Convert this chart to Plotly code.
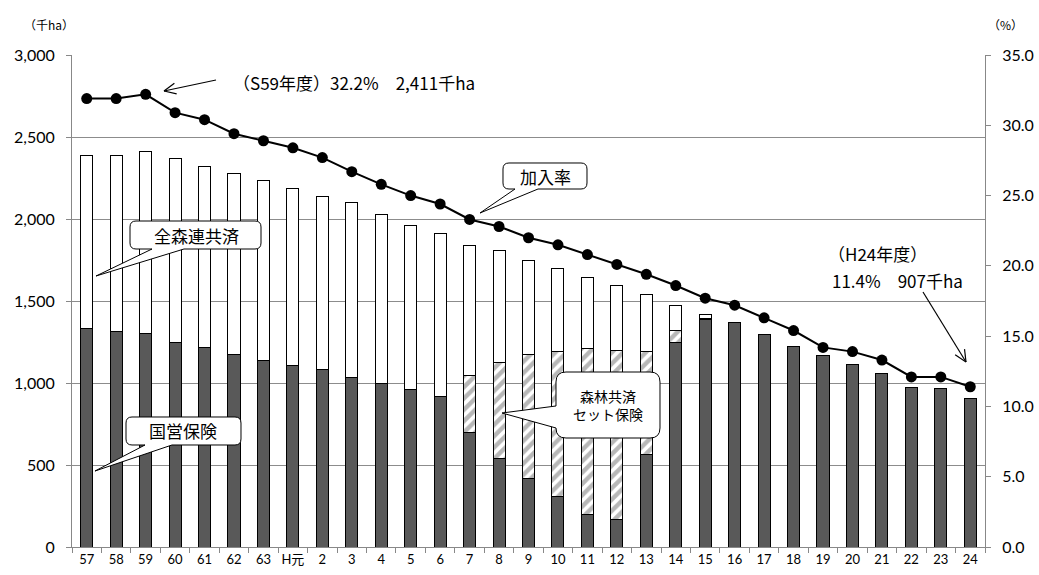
import math
import plotly.graph_objects as go

# 年度（昭和57年度～平成24年度）
years = ["57", "58", "59", "60", "61", "62", "63", "H元", "2", "3", "4", "5", "6",
         "7", "8", "9", "10", "11", "12", "13", "14", "15", "16", "17", "18",
         "19", "20", "21", "22", "23", "24"]

# 国営保険（千ha）
kokuei = [1330, 1315, 1300, 1250, 1215, 1175, 1140, 1105, 1080, 1035, 1000, 960, 920,
          700, 540, 415, 305, 200, 168, 565, 1250, 1390, 1368, 1297, 1222,
          1165, 1110, 1060, 970, 965, 907]

# 森林共済セット保険（千ha）
set_hoken = [0, 0, 0, 0, 0, 0, 0, 0, 0, 0, 0, 0, 0,
             345, 585, 760, 890, 1008, 1030, 628, 68, 5, 0, 0, 0,
             0, 0, 0, 0, 0, 0]

# 全森連共済（千ha）
zenshinren = [1060, 1075, 1111, 1120, 1105, 1100, 1095, 1080, 1060, 1065, 1025, 1000, 990,
              795, 680, 575, 505, 437, 397, 347, 157, 20, 0, 0, 0,
              0, 0, 0, 0, 0, 0]

# 加入率（%）
kanyu = [31.9, 31.9, 32.2, 30.9, 30.4, 29.4, 28.9, 28.4, 27.7, 26.7, 25.8, 25.0, 24.4,
         23.3, 22.8, 22.0, 21.5, 20.8, 20.1, 19.4, 18.6, 17.7, 17.2, 16.3, 15.4,
         14.2, 13.9, 13.3, 12.1, 12.1, 11.4]

FONT = "Lato, 'Noto Sans CJK JP', sans-serif"
JFONT = "'Noto Sans CJK JP', sans-serif"
DARK = "#595959"

fig = go.Figure()
fig.add_bar(x=years, y=kokuei, name="国営保険",
            marker=dict(color=DARK, line=dict(color="black", width=1)))
fig.add_bar(x=years, y=set_hoken, name="森林共済セット保険",
            marker=dict(color="white", line=dict(color="black", width=1),
                        pattern=dict(shape="/", fgcolor="#707070", bgcolor="white",
                                     size=8, solidity=0.55)))
fig.add_bar(x=years, y=zenshinren, name="全森連共済",
            marker=dict(color="white", line=dict(color="black", width=1)))
fig.add_scatter(x=years, y=kanyu, name="加入率", yaxis="y2", mode="lines+markers",
                line=dict(color="black", width=2),
                marker=dict(color="black", size=11))

# plot area in pixels
L, R, T, B = 72, 985, 55, 547
W, H = R - L, B - T


def px(x):
    return (x - L) / W


def py(y):
    return (B - y) / H


def pt(x, y):
    return f"{px(x):.5f},{py(y):.5f}"


def callout(x0, y0, x1, y1, tip, side="bottom", base=(0, 0), r=6):
    """rounded box with a wedge tail, coordinates in pixels"""
    p = [f"M{pt(x0 + r, y0)}", f"L{pt(x1 - r, y0)}",
         f"Q{pt(x1, y0)} {pt(x1, y0 + r)}", f"L{pt(x1, y1 - r)}",
         f"Q{pt(x1, y1)} {pt(x1 - r, y1)}"]
    if side == "bottom":
        p += [f"L{pt(base[1], y1)}", f"L{pt(*tip)}", f"L{pt(base[0], y1)}"]
    p += [f"L{pt(x0 + r, y1)}", f"Q{pt(x0, y1)} {pt(x0, y1 - r)}"]
    if side == "left":
        p += [f"L{pt(x0, base[1])}", f"L{pt(*tip)}", f"L{pt(x0, base[0])}"]
    p += [f"L{pt(x0, y0 + r)}", f"Q{pt(x0, y0)} {pt(x0 + r, y0)}", "Z"]
    return dict(type="path", xref="paper", yref="paper", path=" ".join(p),
                fillcolor="white", line=dict(color="black", width=1), layer="above")


def arrow(x0, y0, x1, y1, head=13, ang=25):
    """open-headed arrow from (x0,y0) to (x1,y1) in pixels"""
    shapes = [dict(type="line", xref="paper", yref="paper",
                   x0=px(x0), y0=py(y0), x1=px(x1), y1=py(y1),
                   line=dict(color="black", width=1.2), layer="above")]
    a = math.atan2(y0 - y1, x0 - x1)
    for s in (-1, 1):
        b = a + s * math.radians(ang)
        hx, hy = x1 + head * math.cos(b), y1 + head * math.sin(b)
        shapes.append(dict(type="line", xref="paper", yref="paper",
                           x0=px(x1), y0=py(y1), x1=px(hx), y1=py(hy),
                           line=dict(color="black", width=1.2), layer="above"))
    return shapes


shapes = [
    callout(130, 221, 261, 249, tip=(96, 276), side="bottom", base=(152, 184)),
    callout(126, 417, 241, 445, tip=(95, 471), side="bottom", base=(145, 172)),
    callout(503, 163, 587, 189, tip=(480, 213), side="bottom", base=(515, 538)),
    callout(556, 372, 660, 438, tip=(502, 413), side="left", base=(406, 428), r=10),
]
shapes += arrow(216, 80, 164, 91)
shapes += arrow(923, 292, 966, 362)


def label(text, x, y, size=17, anchor="center", family=JFONT):
    return dict(text=text, x=px(x), y=py(y), xref="paper", yref="paper",
                xanchor=anchor, yanchor="middle", showarrow=False,
                font=dict(family=family, size=size, color="black"))


annotations = [
    label("全森連共済", 196, 235),
    label("国営保険", 183, 431),
    label("加入率", 545, 176),
    label("森林共済", 608, 396, size=14),
    label("セット保険", 608, 414, size=14),
    label("（S59年度）32.2%　2,411千ha", 231, 83, anchor="left"),
    label("（H24年度）", 826, 253, anchor="left"),
    label("11.4%　907千ha", 830, 280, anchor="left"),
    label("（千ha）", 22, 25, size=12, anchor="left"),
    label("（%）", 986, 25, size=12, anchor="left"),
]

fig.update_layout(
    width=1039, height=575,
    margin=dict(l=L, r=1039 - R, t=T, b=575 - B),
    barmode="stack", bargap=0.59,
    showlegend=False,
    plot_bgcolor="white", paper_bgcolor="white",
    font=dict(family=FONT, size=15, color="black"),
    xaxis=dict(type="category", range=[-0.5, len(years) - 0.5],
               showline=True, linecolor="#888888", linewidth=1,
               ticks="outside", tickson="boundaries", ticklen=5, tickcolor="#888888",
               tickfont=dict(size=13), tickangle=0, automargin=False, showgrid=False),
    yaxis=dict(range=[0, 3000], dtick=500, tickformat=",", showline=True,
               linecolor="#888888", linewidth=1, ticks="outside", ticklen=5,
               tickcolor="#888888", showgrid=True, gridcolor="#8c8c8c", gridwidth=1,
               tickfont=dict(size=16), zeroline=False, automargin=False,
               ticklabelstandoff=8),
    yaxis2=dict(range=[0, 35], dtick=5, tickformat=".1f", overlaying="y", side="right",
                showline=True, linecolor="#888888", linewidth=1, ticks="outside",
                ticklen=5, tickcolor="#888888", showgrid=False, zeroline=False,
                tickfont=dict(size=16), automargin=False, ticklabelstandoff=8),
    shapes=shapes,
    annotations=annotations,
)

fig.write_html("out.html")
